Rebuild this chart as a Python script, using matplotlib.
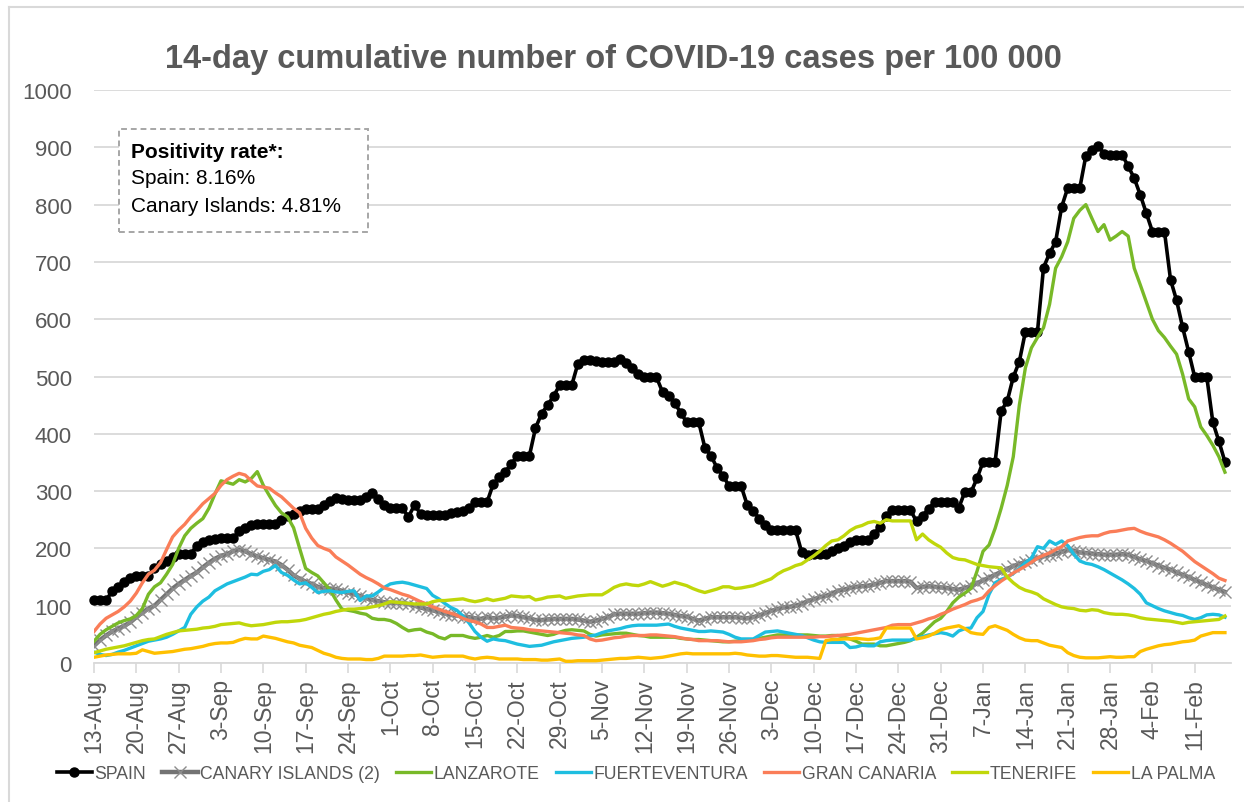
import numpy as np
import pandas as pd
import matplotlib
matplotlib.use("Agg")
import matplotlib.pyplot as plt
from matplotlib.lines import Line2D
from matplotlib.patches import Rectangle

plt.rcParams["font.family"] = ["Liberation Sans", "DejaVu Sans"]

# daily categories, 13-Aug to 17-Feb
dates = pd.date_range("2020-08-13", periods=188, freq="D")

spain = [
    110, 110, 110, 125, 133, 142, 148,
    152, 152, 152, 165, 172, 178, 185,
    190, 190, 190, 205, 212, 215, 216,
    218, 218, 218, 230, 236, 240, 242,
    243, 243, 243, 250, 256, 260, 265,
    268, 268, 268, 275, 283, 288, 287,
    284, 284, 284, 290, 297, 286, 276,
    270, 270, 270, 255, 276, 260, 258,
    258, 258, 258, 261, 264, 266, 270,
    281, 281, 281, 312, 324, 334, 347,
    362, 362, 362, 410, 435, 450, 466,
    485, 485, 485, 522, 529, 528, 527,
    526, 526, 526, 530, 524, 514, 505,
    499, 499, 499, 473, 466, 454, 437,
    420, 420, 420, 376, 362, 341, 327,
    309, 309, 309, 276, 266, 252, 240,
    232, 232, 232, 232, 232, 194, 189,
    190, 190, 190, 196, 201, 205, 212,
    215, 215, 215, 226, 238, 257, 267,
    267, 267, 267, 247, 257, 269, 281,
    281, 281, 281, 271, 299, 298, 322,
    351, 351, 351, 440, 457, 499, 526,
    578, 578, 578, 690, 715, 735, 796,
    829, 829, 829, 885, 896, 903, 889,
    887, 887, 887, 867, 846, 817, 785,
    753, 753, 753, 669, 633, 586, 543,
    499, 499, 499, 420, 387, 351,
]
canary = [
    30, 40, 48, 55, 60, 65, 71,
    80, 88, 95, 100, 110, 120, 130,
    138, 145, 152, 158, 167, 175, 182,
    187, 190, 195, 198, 195, 190, 186,
    183, 180, 177, 171, 163, 153, 147,
    142, 138, 133, 131, 130, 129, 126,
    123, 120, 117, 113, 110, 108, 106,
    105, 105, 105, 103, 100, 97, 94,
    92, 89, 86, 84, 83, 81, 80,
    78, 77, 80, 78, 79, 81, 83,
    82, 80, 78, 75, 75, 76, 77,
    77, 77, 77, 76, 74, 72, 74,
    77, 80, 85, 86, 86, 86, 86,
    87, 88, 88, 87, 86, 84, 82,
    81, 77, 74, 77, 80, 80, 80,
    80, 80, 79, 78, 80, 83, 87,
    91, 94, 97, 98, 100, 103, 108,
    111, 115, 117, 121, 126, 128, 131,
    133, 134, 135, 137, 140, 143, 143,
    143, 143, 142, 131, 133, 134, 133,
    132, 131, 129, 128, 131, 134, 139,
    144, 149, 154, 159, 164, 169, 173,
    176, 180, 183, 186, 189, 191, 194,
    197, 196, 193, 192, 191, 190, 189,
    189, 189, 190, 189, 185, 181, 178,
    174, 170, 166, 163, 158, 154, 150,
    145, 141, 136, 132, 128, 124,
]
lanzarote = [
    38, 50, 58, 64, 70, 74, 77,
    83, 95, 120, 133, 140, 155, 172,
    200, 222, 235, 244, 252, 270, 295,
    318, 315, 312, 320, 316, 322, 334,
    310, 292, 275, 262, 255, 236, 200,
    165, 158, 152, 140, 128, 110, 94,
    92, 90, 87, 85, 78, 76, 76,
    74, 69, 62, 56, 58, 59, 54,
    51, 45, 42, 48, 48, 48, 45,
    43, 45, 48, 45, 48, 55, 55,
    56, 56, 54, 52, 50, 48, 50,
    54, 57, 58, 57, 56, 50, 47,
    49, 50, 51, 52, 52, 50, 48,
    47, 45, 45, 45, 45, 45, 43,
    42, 41, 41, 40, 39, 38, 37,
    37, 38, 39, 40, 41, 43, 45,
    47, 49, 49, 49, 49, 49, 49,
    48, 47, 47, 48, 48, 45, 42,
    38, 33, 33, 33, 30, 30, 32,
    34, 36, 39, 45, 52, 62, 72,
    78, 90, 105, 115, 122, 130, 160,
    195, 206, 235, 270, 310, 360, 450,
    515, 550, 568, 585, 626, 689, 709,
    735, 776, 790, 800, 776, 753, 765,
    738, 745, 753, 745, 689, 660, 630,
    600, 580, 568, 553, 539, 504, 461,
    447, 412, 397, 380, 360, 333,
]
fuerteventura = [
    19, 15, 13, 15, 19, 22, 26,
    30, 34, 38, 40, 42, 45, 50,
    56, 62, 85, 98, 108, 115, 126,
    132, 138, 142, 146, 150, 155, 154,
    160, 163, 170, 158, 153, 145, 138,
    140, 132, 123, 125, 126, 124, 123,
    125, 126, 109, 117, 117, 124, 132,
    138, 140, 141, 139, 136, 133, 130,
    118, 112, 104, 97, 92, 82, 70,
    55, 45, 38, 42, 40, 39, 36,
    33, 31, 29, 30, 31, 34, 37,
    39, 41, 43, 44, 45, 47, 49,
    53, 56, 58, 60, 63, 65, 66,
    66, 66, 66, 67, 68, 64, 61,
    59, 57, 55, 55, 56, 55, 54,
    50, 45, 42, 42, 42, 48, 54,
    55, 56, 54, 52, 50, 48, 44,
    40, 37, 36, 36, 36, 36, 27,
    28, 31, 30, 30, 37, 39, 40,
    40, 40, 40, 43, 46, 49, 51,
    53, 51, 47, 56, 60, 61, 79,
    90, 120, 140, 146, 150, 156, 165,
    175, 183, 203, 200, 213, 207, 213,
    205, 190, 178, 174, 172, 168, 163,
    157, 151, 145, 138, 130, 120, 105,
    100, 95, 91, 88, 85, 83, 79,
    76, 79, 84, 85, 84, 80,
]
gran_canaria = [
    55, 68, 78, 84, 90, 98, 108,
    122, 140, 155, 162, 175, 198, 220,
    232, 242, 255, 266, 278, 287, 296,
    310, 320, 326, 331, 328, 318, 309,
    307, 305, 297, 290, 280, 270, 262,
    235, 218, 205, 200, 196, 185, 178,
    171, 163, 155, 149, 144, 138, 131,
    128, 124, 120, 117, 112, 107, 103,
    98, 94, 90, 87, 83, 78, 74,
    72, 68, 62, 62, 64, 66, 62,
    61, 60, 58, 57, 56, 55, 54,
    53, 52, 51, 49, 48, 42, 39,
    40, 42, 44, 45, 47, 48, 48,
    48, 49, 49, 48, 47, 46, 44,
    42, 41, 39, 39, 39, 39, 38,
    37, 37, 37, 38, 39, 41, 42,
    44, 45, 45, 45, 45, 45, 45,
    45, 46, 46, 47, 48, 49, 50,
    52, 54, 56, 58, 60, 62, 66,
    67, 67, 67, 70, 73, 77, 80,
    85, 89, 94, 98, 102, 107, 110,
    114, 126, 135, 143, 150, 157, 163,
    169, 176, 183, 188, 192, 198, 203,
    213, 216, 219, 221, 222, 222, 226,
    229, 230, 232, 234, 235, 230, 226,
    223, 220, 215, 209, 202, 195, 186,
    177, 170, 163, 156, 148, 144,
]
tenerife = [
    18, 21, 24, 26, 28, 30, 33,
    36, 39, 41, 42, 46, 50, 53,
    56, 57, 58, 59, 61, 62, 64,
    67, 68, 69, 70, 67, 65, 66,
    67, 69, 71, 72, 72, 73, 74,
    76, 79, 82, 85, 87, 90, 92,
    94, 94, 95, 96, 98, 100, 103,
    107, 106, 105, 104, 103, 103, 103,
    107, 109, 109, 110, 111, 112, 109,
    107, 109, 112, 109, 111, 113, 117,
    116, 115, 116, 110, 112, 115, 116,
    117, 113, 115, 117, 118, 119, 119,
    119, 125, 132, 136, 138, 136, 135,
    138, 142, 138, 134, 137, 141, 138,
    135, 130, 126, 123, 126, 129, 133,
    133, 130, 131, 133, 135, 139, 143,
    147, 155, 161, 165, 170, 173, 180,
    187, 195, 205, 213, 215, 222, 231,
    237, 240, 245, 247, 244, 250, 248,
    248, 248, 248, 215, 225, 215, 208,
    202, 192, 184, 181, 180, 176, 172,
    170, 168, 167, 166, 150, 140, 132,
    127, 124, 120, 112, 107, 102, 98,
    96, 95, 92, 91, 93, 92, 88,
    86, 85, 85, 84, 82, 79, 77,
    76, 75, 74, 73, 71, 69, 71,
    72, 73, 74, 75, 76, 82,
]
la_palma = [
    10, 12, 14, 15, 16, 16, 16,
    17, 23, 20, 17, 18, 19, 20,
    22, 24, 25, 27, 29, 32, 34,
    35, 35, 36, 40, 43, 42, 42,
    47, 45, 43, 40, 37, 35, 31,
    29, 27, 22, 17, 14, 10, 8,
    7, 7, 7, 6, 6, 8, 12,
    12, 12, 12, 13, 13, 14, 12,
    10, 11, 12, 12, 12, 12, 9,
    7, 9, 10, 9, 7, 7, 7,
    7, 6, 6, 6, 5, 5, 6,
    7, 3, 3, 4, 4, 4, 4,
    5, 6, 7, 8, 8, 9, 10,
    9, 8, 9, 10, 12, 14, 16,
    17, 16, 16, 16, 16, 16, 16,
    16, 17, 16, 14, 13, 12, 12,
    13, 13, 12, 11, 10, 10, 10,
    9, 8, 39, 41, 41, 42, 42,
    43, 42, 41, 42, 44, 61, 61,
    61, 61, 61, 42, 44, 47, 52,
    58, 61, 63, 65, 60, 53, 51,
    50, 62, 65, 61, 57, 50, 44,
    40, 39, 39, 35, 31, 29, 27,
    18, 13, 10, 9, 9, 9, 10,
    11, 10, 10, 11, 11, 20, 24,
    27, 30, 32, 33, 35, 37, 38,
    40, 47, 50, 53, 53, 53,
]

GREY_TXT = "#595959"
GRID = "#D9D9D9"

fig = plt.figure(figsize=(12.44, 8.03), dpi=100)
ax = fig.add_axes([94 / 1244, 139 / 803, 1137 / 1244, 573 / 803])

x = np.arange(len(dates))
ax.plot(x, spain, color="black", lw=2.6, marker="o", ms=6.5, label="SPAIN", clip_on=False, zorder=3)
ax.plot(x, canary, color="#737373", lw=3.2, marker="x", ms=9, mew=1.0, mec="#8C8C8C",
        label="CANARY ISLANDS (2)", zorder=4)
ax.plot(x, lanzarote, color="#78B928", lw=2.4, label="LANZAROTE", zorder=5)
ax.plot(x, fuerteventura, color="#1EBEE0", lw=2.4, label="FUERTEVENTURA", zorder=6)
ax.plot(x, gran_canaria, color="#FA7D58", lw=2.4, label="GRAN CANARIA", zorder=7)
ax.plot(x, tenerife, color="#C0D70A", lw=2.4, label="TENERIFE", zorder=8)
ax.plot(x, la_palma, color="#FFC000", lw=2.4, label="LA PALMA", zorder=9)

ax.set_xlim(0, 188)
ax.set_ylim(0, 1000)
ax.set_yticks(range(0, 1001, 100))
ax.yaxis.grid(True, color=GRID, lw=1.3)
ax.set_axisbelow(True)
ax.tick_params(axis="y", length=0, pad=16, labelsize=16, labelcolor=GREY_TXT)

week_idx = x[::7]
ax.set_xticks(week_idx)
ax.set_xticklabels([f"{d.day}-{d.strftime('%b')}" for d in dates[::7]], rotation=90)
ax.tick_params(axis="x", direction="out", length=7, width=1.2, color=GRID, pad=4,
               labelsize=16.5, labelcolor=GREY_TXT)

for s in ["top", "right", "left"]:
    ax.spines[s].set_visible(False)
ax.spines["bottom"].set_color(GRID)
ax.spines["bottom"].set_linewidth(1.3)

fig.text(613 / 1244, 1 - 68 / 803, "14-day cumulative number of COVID-19 cases per 100 000",
         ha="center", va="baseline", fontsize=23.5, fontweight="bold", color=GREY_TXT)

# positivity box
fig.patches.append(Rectangle((119 / 1244, 1 - 233 / 803), 249 / 1244, 103 / 803,
                             transform=fig.transFigure, fill=True, facecolor="white",
                             edgecolor="#A6A6A6", lw=1.4, ls=(0, (3, 2)), zorder=10))
fig.text(131 / 1244, 1 - 152 / 803, "Positivity rate*:", fontsize=15, fontweight="bold",
         va="center", color="black", zorder=11)
fig.text(131 / 1244, 1 - 179 / 803, "Spain: 8.16%", fontsize=15, va="center", color="black", zorder=11)
fig.text(131 / 1244, 1 - 206 / 803, "Canary Islands: 4.81%", fontsize=15, va="center",
         color="black", zorder=11)

# chart border (top and left visible)
fig.add_artist(Line2D([8.5 / 1244, 8.5 / 1244], [0, 1 - 7.5 / 803], transform=fig.transFigure,
                      color=GRID, lw=1.5))
fig.add_artist(Line2D([8.5 / 1244, 1], [1 - 7.5 / 803, 1 - 7.5 / 803], transform=fig.transFigure,
                      color=GRID, lw=1.5))

leg = fig.legend(loc="center", bbox_to_anchor=(636 / 1244, 1 - 775 / 803), ncol=7,
                 frameon=False, fontsize=12.7, handlelength=2.0, handletextpad=0.15,
                 columnspacing=0.9, numpoints=1, labelcolor=GREY_TXT)

fig.savefig("out.png", dpi=100)
